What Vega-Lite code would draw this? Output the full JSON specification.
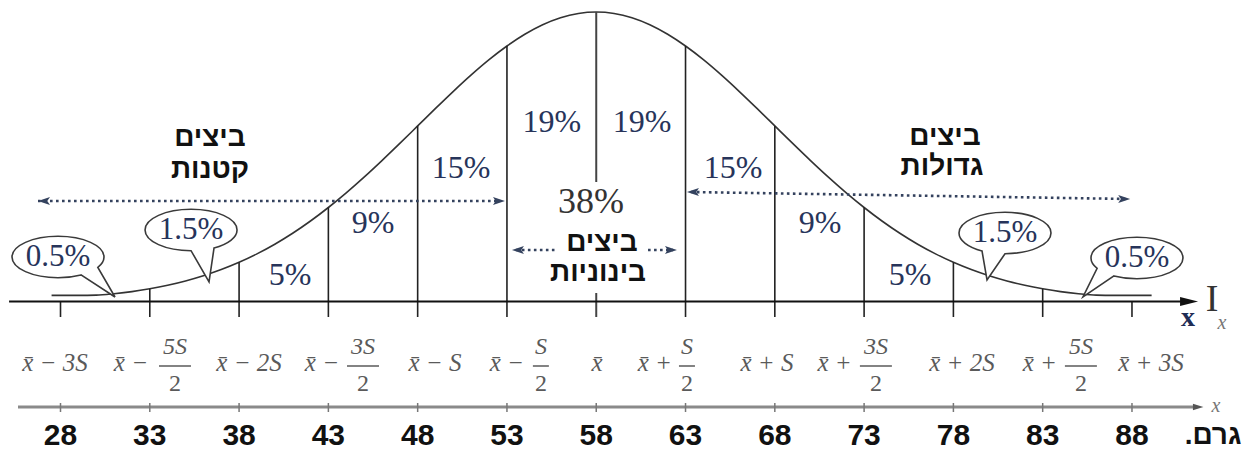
{
  "$schema": "https://vega.github.io/schema/vega-lite/v6.json",
  "width": 1253,
  "height": 456,
  "autosize": {"type": "none"},
  "padding": 0,
  "background": "white",
  "config": {"view": {"stroke": null}},
  "encoding": {
    "x": {"field": "x", "type": "quantitative", "scale": {"domain": [24.612, 94.777], "nice": false, "zero": false}, "axis": null},
    "y": {"field": "v", "type": "quantitative", "scale": {"domain": [-0.53368, 1.04145], "nice": false, "zero": false}, "axis": null}
  },
  "layer": [
    {
      "data": {"values": [
        {"x": 27.5, "v": 0.021}, {"x": 28, "v": 0.021}, {"x": 29, "v": 0.021}, {"x": 30, "v": 0.022},
        {"x": 31, "v": 0.027}, {"x": 32, "v": 0.034}, {"x": 33, "v": 0.0439}, {"x": 34, "v": 0.0561},
        {"x": 35, "v": 0.071}, {"x": 36, "v": 0.0889}, {"x": 37, "v": 0.1103}, {"x": 38, "v": 0.1353},
        {"x": 39, "v": 0.1645}, {"x": 40, "v": 0.1979}, {"x": 41, "v": 0.2357}, {"x": 42, "v": 0.278},
        {"x": 43, "v": 0.3247}, {"x": 44, "v": 0.3753}, {"x": 45, "v": 0.4296}, {"x": 46, "v": 0.4868},
        {"x": 47, "v": 0.5461}, {"x": 48, "v": 0.6065}, {"x": 49, "v": 0.667}, {"x": 50, "v": 0.7261},
        {"x": 51, "v": 0.7827}, {"x": 52, "v": 0.8353}, {"x": 53, "v": 0.8825}, {"x": 54, "v": 0.9231},
        {"x": 55, "v": 0.956}, {"x": 56, "v": 0.9802}, {"x": 57, "v": 0.995}, {"x": 58, "v": 1},
        {"x": 59, "v": 0.995}, {"x": 60, "v": 0.9802}, {"x": 61, "v": 0.956}, {"x": 62, "v": 0.9231},
        {"x": 63, "v": 0.8825}, {"x": 64, "v": 0.8353}, {"x": 65, "v": 0.7827}, {"x": 66, "v": 0.7261},
        {"x": 67, "v": 0.667}, {"x": 68, "v": 0.6065}, {"x": 69, "v": 0.5461}, {"x": 70, "v": 0.4868},
        {"x": 71, "v": 0.4296}, {"x": 72, "v": 0.3753}, {"x": 73, "v": 0.3247}, {"x": 74, "v": 0.278},
        {"x": 75, "v": 0.2357}, {"x": 76, "v": 0.1979}, {"x": 77, "v": 0.1645}, {"x": 78, "v": 0.1353},
        {"x": 79, "v": 0.1103}, {"x": 80, "v": 0.0889}, {"x": 81, "v": 0.071}, {"x": 82, "v": 0.0561},
        {"x": 83, "v": 0.0439}, {"x": 84, "v": 0.034}, {"x": 85, "v": 0.027}, {"x": 86, "v": 0.022},
        {"x": 87, "v": 0.021}, {"x": 88, "v": 0.021}, {"x": 89.1, "v": 0.021}
      ]},
      "mark": {"type": "line", "color": "#333333", "strokeWidth": 1.6, "interpolate": "monotone"},
      "encoding": {"order": {"field": "x", "type": "quantitative"}}
    },
    {
      "data": {"values": [
        {"x": 28, "v": 0, "v2": -0.0535}, {"x": 33, "v": 0.0439, "v2": -0.0535}, {"x": 38, "v": 0.1353, "v2": -0.0535},
        {"x": 43, "v": 0.3247, "v2": -0.0535}, {"x": 48, "v": 0.6065, "v2": -0.0535}, {"x": 53, "v": 0.8825, "v2": -0.0535},
        {"x": 63, "v": 0.8825, "v2": -0.0535}, {"x": 68, "v": 0.6065, "v2": -0.0535}, {"x": 73, "v": 0.3247, "v2": -0.0535},
        {"x": 78, "v": 0.1353, "v2": -0.0535}, {"x": 83, "v": 0.0439, "v2": -0.0535}, {"x": 88, "v": 0, "v2": -0.0535}
      ]},
      "mark": {"type": "rule", "color": "#222222", "strokeWidth": 1.6},
      "encoding": {"y2": {"field": "v2"}}
    },
    {
      "data": {"values": [{"x": 58, "v": 1, "v2": 0.4128}, {"x": 58, "v": 0.0294, "v2": -0.0535}]},
      "mark": {"type": "rule", "color": "#444444", "strokeWidth": 2},
      "encoding": {"y2": {"field": "v2"}}
    },
    {
      "data": {"values": [{"x": 25.12, "x2": 91.0, "v": 0}]},
      "mark": {"type": "rule", "color": "#111111", "strokeWidth": 2},
      "encoding": {"x2": {"field": "x2"}}
    },
    {
      "data": {"values": [{"x": 91.7, "v": 0}]},
      "mark": {"type": "point", "filled": true, "color": "#111111", "opacity": 1, "size": 324, "shape": "M 0 0 L -2 -0.5 L -2 0.5 Z"}
    },
    {
      "data": {"values": [{"x": 25.62, "x2": 91.6, "v": -0.3644}]},
      "mark": {"type": "rule", "color": "#8a8a8a", "strokeWidth": 3},
      "encoding": {"x2": {"field": "x2"}}
    },
    {
      "data": {"values": [{"x": 92.0, "v": -0.3644}]},
      "mark": {"type": "point", "filled": true, "color": "#555555", "opacity": 1, "size": 110, "shape": "M 0 0 L -2 -0.6 L -2 0.6 Z"}
    },
    {
      "data": {"values": [
        {"x": 28, "v": -0.3506, "v2": -0.3817}, {"x": 33, "v": -0.3506, "v2": -0.3817}, {"x": 38, "v": -0.3506, "v2": -0.3817},
        {"x": 43, "v": -0.3506, "v2": -0.3817}, {"x": 48, "v": -0.3506, "v2": -0.3817}, {"x": 53, "v": -0.3506, "v2": -0.3817},
        {"x": 58, "v": -0.3506, "v2": -0.3817}, {"x": 63, "v": -0.3506, "v2": -0.3817}, {"x": 68, "v": -0.3506, "v2": -0.3817},
        {"x": 73, "v": -0.3506, "v2": -0.3817}, {"x": 78, "v": -0.3506, "v2": -0.3817}, {"x": 83, "v": -0.3506, "v2": -0.3817},
        {"x": 88, "v": -0.3506, "v2": -0.3817}
      ]},
      "mark": {"type": "rule", "color": "#777777", "strokeWidth": 1.5},
      "encoding": {"y2": {"field": "v2"}}
    },
    {
      "data": {"values": [
        {"x": 28, "v": -0.4646}, {"x": 33, "v": -0.4646}, {"x": 38, "v": -0.4646}, {"x": 43, "v": -0.4646},
        {"x": 48, "v": -0.4646}, {"x": 53, "v": -0.4646}, {"x": 58, "v": -0.4646}, {"x": 63, "v": -0.4646},
        {"x": 68, "v": -0.4646}, {"x": 73, "v": -0.4646}, {"x": 78, "v": -0.4646}, {"x": 83, "v": -0.4646},
        {"x": 88, "v": -0.4646}
      ]},
      "mark": {"type": "text", "font": "Liberation Sans", "fontWeight": "bold", "fontSize": 30, "color": "#111111", "baseline": "middle", "align": "center"},
      "encoding": {"text": {"field": "x", "type": "quantitative", "format": "d"}}
    },
    {
      "data": {"values": [
        {"x": 26.74, "v": 0.3472, "x2": 52.6, "v2": 0.3472},
        {"x": 63.3, "v": 0.3782, "x2": 87.78, "v2": 0.3541},
        {"x": 53.5, "v": 0.1779, "x2": 55.69, "v2": 0.1779},
        {"x": 60.9, "v": 0.1779, "x2": 62.3, "v2": 0.1779}
      ]},
      "mark": {"type": "rule", "color": "#34425e", "strokeWidth": 2.6, "strokeDash": [2.6, 3.4]},
      "encoding": {"x2": {"field": "x2"}, "y2": {"field": "v2"}}
    },
    {
      "data": {"values": [
        {"x": 26.74, "v": 0.3472, "dir": "left"},
        {"x": 52.89, "v": 0.3472, "dir": "right"},
        {"x": 63.08, "v": 0.3782, "dir": "left"},
        {"x": 87.9, "v": 0.3541, "dir": "right"},
        {"x": 53.28, "v": 0.1779, "dir": "left"},
        {"x": 62.52, "v": 0.1779, "dir": "right"}
      ]},
      "layer": [
        {
          "transform": [{"filter": "datum.dir == 'left'"}],
          "mark": {"type": "point", "filled": true, "opacity": 1, "color": "#34425e", "size": 144, "shape": "M 0 0 L 2 -0.65 L 1.55 0 L 2 0.65 Z"}
        },
        {
          "transform": [{"filter": "datum.dir == 'right'"}],
          "mark": {"type": "point", "filled": true, "opacity": 1, "color": "#34425e", "size": 144, "shape": "M 0 0 L -2 -0.65 L -1.55 0 L -2 0.65 Z"}
        }
      ]
    },
    {
      "data": {"values": [
        {"x": 35.31, "v": 0.247, "id": "l15", "t": "1.5%"},
        {"x": 27.86, "v": 0.1537, "id": "l05", "t": "0.5%"},
        {"x": 80.89, "v": 0.2366, "id": "r15", "t": "1.5%"},
        {"x": 88.28, "v": 0.1503, "id": "r05", "t": "0.5%"}
      ]},
      "layer": [
        {
          "transform": [{"filter": "datum.id == 'l15'"}],
          "mark": {"type": "point", "filled": false, "fill": "white", "fillOpacity": 1, "stroke": "#3a3a3a", "strokeWidth": 1.6, "opacity": 1, "size": 8464,
            "shape": "M 0 0.45 C -0.5523 0.45 -1 0.2485 -1 0 C -1 -0.2485 -0.5523 -0.45 0 -0.45 C 0.5523 -0.45 1 -0.2485 1 0 C 1 0.1608 0.8094 0.3093 0.5 0.3897 L 0.391 1.13 Z"}
        },
        {
          "transform": [{"filter": "datum.id == 'l05'"}],
          "mark": {"type": "point", "filled": false, "fill": "white", "fillOpacity": 1, "stroke": "#3a3a3a", "strokeWidth": 1.6, "opacity": 1, "size": 8464,
            "shape": "M 0.5 0.3897 C 0.348 0.4292 0.1755 0.45 0 0.45 C -0.5523 0.45 -1 0.2485 -1 0 C -1 -0.2485 -0.5523 -0.45 0 -0.45 C 0.5523 -0.45 1 -0.2485 1 0 C 1 0.079 0.9538 0.1566 0.866 0.225 L 1.239 0.87 Z"}
        },
        {
          "transform": [{"filter": "datum.id == 'r15'"}],
          "mark": {"type": "point", "filled": false, "fill": "white", "fillOpacity": 1, "stroke": "#3a3a3a", "strokeWidth": 1.6, "opacity": 1, "size": 8464,
            "shape": "M 0 0.45 C 0.5523 0.45 1 0.2485 1 0 C 1 -0.2485 0.5523 -0.45 0 -0.45 C -0.5523 -0.45 -1 -0.2485 -1 0 C -1 0.1608 -0.8094 0.3093 -0.5 0.3897 L -0.391 1.02 Z"}
        },
        {
          "transform": [{"filter": "datum.id == 'r05'"}],
          "mark": {"type": "point", "filled": false, "fill": "white", "fillOpacity": 1, "stroke": "#3a3a3a", "strokeWidth": 1.6, "opacity": 1, "size": 8464,
            "shape": "M -0.5 0.3897 C -0.348 0.4292 -0.1755 0.45 0 0.45 C 0.5523 0.45 1 0.2485 1 0 C 1 -0.2485 0.5523 -0.45 0 -0.45 C -0.5523 -0.45 -1 -0.2485 -1 0 C -1 0.079 -0.9538 0.1566 -0.866 0.225 L -1.174 0.848 Z"}
        },
        {
          "mark": {"type": "text", "font": "Liberation Serif", "fontSize": 31, "color": "#27345a", "baseline": "middle", "align": "center"},
          "encoding": {"text": {"field": "t"}}
        }
      ]
    },
    {
      "data": {"values": [
        {"x": 55.52, "v": 0.62, "t": "19%"},
        {"x": 60.56, "v": 0.62, "t": "19%"},
        {"x": 50.43, "v": 0.461, "t": "15%"},
        {"x": 65.66, "v": 0.461, "t": "15%"},
        {"x": 45.5, "v": 0.272, "t": "9%"},
        {"x": 70.53, "v": 0.272, "t": "9%"},
        {"x": 40.85, "v": 0.0915, "t": "5%"},
        {"x": 75.57, "v": 0.0915, "t": "5%"}
      ]},
      "mark": {"type": "text", "font": "Liberation Serif", "fontSize": 32, "color": "#27345a", "baseline": "middle", "align": "center"},
      "encoding": {"text": {"field": "t"}}
    },
    {
      "data": {"values": [{"x": 57.71, "v": 0.3437, "t": "38%"}]},
      "mark": {"type": "text", "font": "Liberation Serif", "fontSize": 36, "color": "#333333", "baseline": "middle", "align": "center"},
      "encoding": {"text": {"field": "t"}}
    },
    {
      "data": {"values": [
        {"x": 36.37, "v": 0.5648, "t": "ביצים"},
        {"x": 36.37, "v": 0.4542, "t": "קטנות"},
        {"x": 77.53, "v": 0.5682, "t": "ביצים"},
        {"x": 77.36, "v": 0.4646, "t": "גדולות"},
        {"x": 58.32, "v": 0.2021, "t": "ביצים"},
        {"x": 58.1, "v": 0.0984, "t": "בינוניות"},
        {"x": 92.54, "v": -0.4646, "t": ".גרם"}
      ]},
      "mark": {"type": "text", "font": "Liberation Sans", "fontWeight": "bold", "fontSize": 28, "color": "#111111", "baseline": "middle", "align": "center"},
      "encoding": {"text": {"field": "t"}}
    },
    {
      "data": {"values": [
        {"x": 27.69, "v": -0.2124, "t": "x̄ − 3S"},
        {"x": 38.56, "v": -0.2124, "t": "x̄ − 2S"},
        {"x": 48.97, "v": -0.2124, "t": "x̄ − S"},
        {"x": 58.04, "v": -0.2124, "t": "x̄"},
        {"x": 67.56, "v": -0.2124, "t": "x̄ + S"},
        {"x": 78.48, "v": -0.2124, "t": "x̄ + 2S"},
        {"x": 89.06, "v": -0.2124, "t": "x̄ + 3S"}
      ]},
      "mark": {"type": "text", "font": "Liberation Serif", "fontStyle": "italic", "fontSize": 25, "color": "#5a5a5a", "baseline": "middle", "align": "center"},
      "encoding": {"text": {"field": "t"}}
    },
    {
      "data": {"values": [
        {"x": 34.41, "v": -0.2228, "px": 32.9, "pv": -0.2124, "pre": "x̄ −", "num": "5S"},
        {"x": 44.94, "v": -0.2228, "px": 43.6, "pv": -0.2124, "pre": "x̄ −", "num": "3S"},
        {"x": 54.9, "v": -0.2228, "px": 53.95, "pv": -0.2124, "pre": "x̄ −", "num": "S"},
        {"x": 63.08, "v": -0.2228, "px": 62.24, "pv": -0.2124, "pre": "x̄ +", "num": "S"},
        {"x": 73.66, "v": -0.2228, "px": 72.3, "pv": -0.2124, "pre": "x̄ +", "num": "3S"},
        {"x": 85.14, "v": -0.2228, "px": 83.8, "pv": -0.2124, "pre": "x̄ +", "num": "5S"}
      ]},
      "layer": [
        {
          "transform": [{"filter": "datum.num == 'S'"}],
          "mark": {"type": "tick", "orient": "horizontal", "size": 16, "thickness": 1.5, "color": "#5a5a5a", "opacity": 1}
        },
        {
          "transform": [{"filter": "datum.num != 'S'"}],
          "mark": {"type": "tick", "orient": "horizontal", "size": 32, "thickness": 1.5, "color": "#5a5a5a", "opacity": 1}
        },
        {
          "mark": {"type": "text", "font": "Liberation Serif", "fontStyle": "italic", "fontSize": 24, "color": "#5a5a5a", "baseline": "middle", "align": "center", "dy": -19},
          "encoding": {"text": {"field": "num"}}
        },
        {
          "mark": {"type": "text", "font": "Liberation Serif", "fontSize": 24, "color": "#5a5a5a", "baseline": "middle", "align": "center", "dy": 18, "text": "2"}
        },
        {
          "mark": {"type": "text", "font": "Liberation Serif", "fontStyle": "italic", "fontSize": 25, "color": "#5a5a5a", "baseline": "middle", "align": "right"},
          "encoding": {"x": {"field": "px", "type": "quantitative"}, "y": {"field": "pv", "type": "quantitative"}, "text": {"field": "pre"}}
        }
      ]
    },
    {
      "data": {"values": [{"x": 91.14, "v": -0.057, "t": "x"}]},
      "mark": {"type": "text", "font": "Liberation Serif", "fontWeight": "bold", "fontSize": 28, "color": "#1f2d55", "baseline": "middle", "align": "center"},
      "encoding": {"text": {"field": "t"}}
    },
    {
      "data": {"values": [{"x": 92.48, "v": 0.005, "t": "I"}]},
      "mark": {"type": "text", "font": "Liberation Serif", "fontSize": 38, "color": "#333333", "baseline": "middle", "align": "center"},
      "encoding": {"text": {"field": "t"}}
    },
    {
      "data": {"values": [{"x": 93.04, "v": -0.0743, "t": "x"}, {"x": 92.7, "v": -0.362, "t": "x"}]},
      "mark": {"type": "text", "font": "Liberation Serif", "fontStyle": "italic", "fontSize": 20, "color": "#777777", "baseline": "middle", "align": "center"},
      "encoding": {"text": {"field": "t"}}
    }
  ]
}
